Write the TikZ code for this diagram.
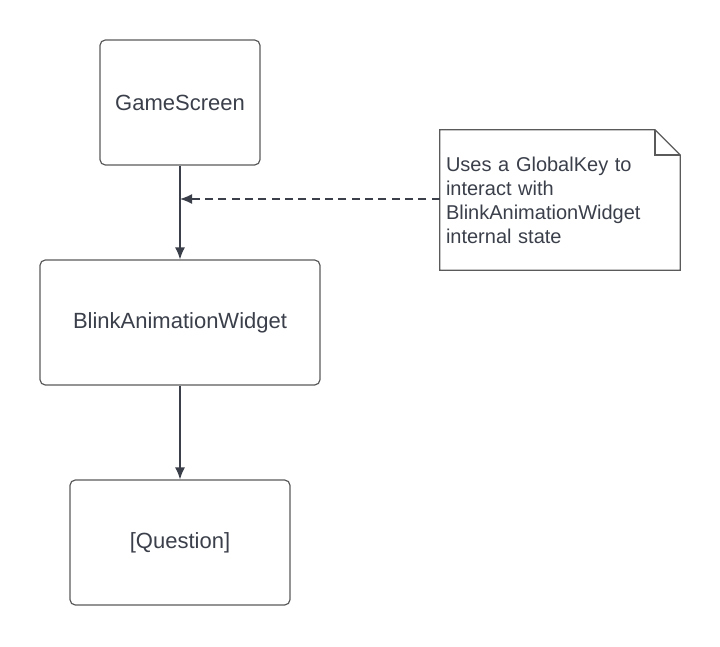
\documentclass[tikz,border=0pt]{standalone}
\usepackage{fontspec}
\setmainfont{Liberation Sans}
\usepackage{tikz}
\usetikzlibrary{arrows.meta}
\usetikzlibrary{positioning}
\definecolor{ink}{HTML}{3A3F4A}
\definecolor{rim}{HTML}{5A5A5A}

\begin{document}
\begin{tikzpicture}[x=0.75pt,y=-0.75pt]
				\tikzset{block/.style = {shape=rectangle,draw=rim,line width=0.9pt,
						rounded corners=4pt,minimum width=#1,minimum height=93.75pt,
						inner sep=0pt,text=ink,font=\fontsize{16.5}{20}\selectfont}}
				\tikzset{edge/.style = {-{Latex[length=9pt,width=7.5pt]},draw=ink,line width=1pt}}
				\tikzset{edgedash/.style = {edge,dash pattern=on 6pt off 4pt}}
				\tikzset{memo/.style = {shape=rectangle,minimum width=180pt,
						minimum height=105pt,inner xsep=4.5pt,text width=171pt,
						align=left,text=ink,font=\fontsize{15}{18}\selectfont}}
				
				\useasboundingbox (0,0) rectangle (720,646);
				
				% blocks
				\node[block=120pt] (game) at (180,102.5) {GameScreen};
				\node[block=210pt] (blink) at (180,322.5) {BlinkAnimationWidget};
				\node[block=165pt] (quest) at (180,542.5) {[Question]};
				
				% note with folded corner
				\node[memo] (note) at (560,200) {Uses a GlobalKey to\\interact with\\BlinkAnimationWidget\\internal state};
				\draw[rim,line width=0.9pt] (note.south west) -- (note.north west)
					-- ([xshift=-19pt]note.north east) -- ([yshift=-19pt]note.north east)
					-- (note.south east) -- cycle;
				\draw[rim,line width=0.9pt] ([xshift=-19pt]note.north east)
					-- ([xshift=-19pt,yshift=-19pt]note.north east)
					-- ([yshift=-19pt]note.north east);
				\coordinate (hit) at (180,199);
				
				%edges
				\draw[edge] (game) to (blink);
				\draw[edge] (blink) to (quest);
				\draw[edgedash] (note.west |- hit) to (hit);
				
				\end{tikzpicture}
\end{document}
